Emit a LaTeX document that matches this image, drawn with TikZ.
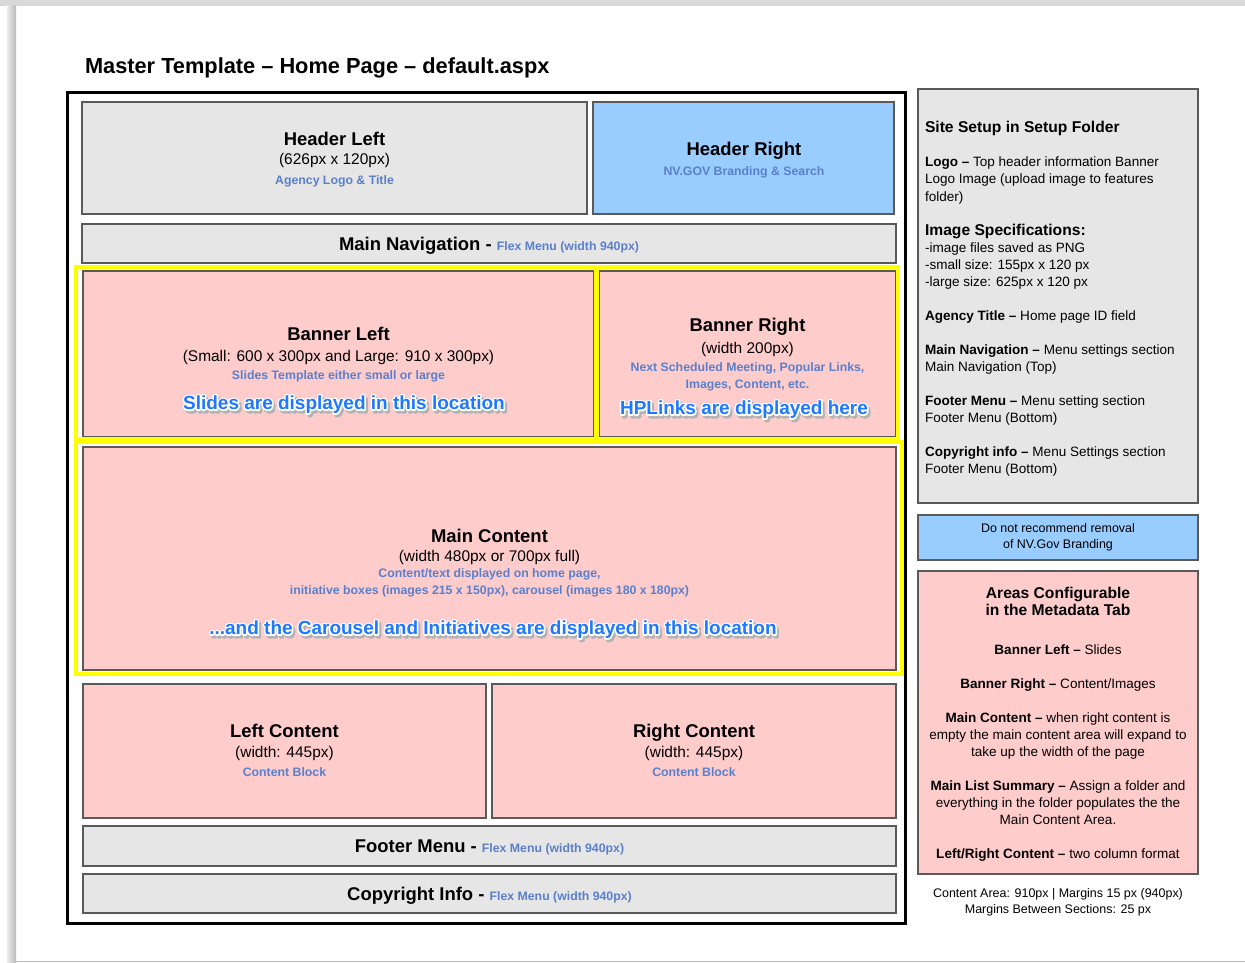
\documentclass[tikz,border=0pt]{standalone}
\usepackage{fontspec}
\setmainfont{Liberation Sans}
\definecolor{boxgray}{HTML}{E6E6E6}
\definecolor{boxblue}{HTML}{99CCFF}
\definecolor{boxpink}{HTML}{FFCCCC}
\definecolor{boxedge}{HTML}{5A5A5A}
\definecolor{noteblue}{HTML}{5A80CC}
\definecolor{glowblue}{HTML}{1F78FF}
\definecolor{hlyellow}{HTML}{FFFF00}
% blue bold remark after a section name
\newcommand\bluenote[1]{{\fontsize{7}{8}\selectfont\color{noteblue}#1}}
% text drawn with a thick stroke of the current colour
\newcommand\strokedtxt[1]{\special{pdf:code 1 j 1.8 w 2 Tr}#1\special{pdf:code 0 Tr 0 j}}
% outlined and shadowed call-out text
\newcommand\glowtxt[1]{%
  \rlap{\kern1.1pt\raisebox{-1.4pt}{\color{black!30}\strokedtxt{#1}}}%
  \rlap{\color{white}\strokedtxt{#1}}%
  {\color{glowblue}#1}}

\begin{document}
\begin{tikzpicture}[x=0.02cm, y=-0.02cm,
  every node/.style={inner sep=0pt, outer sep=0pt},
  blk/.style={draw=boxedge, line width=0.9pt},
  grayblk/.style={blk, fill=boxgray},
  blueblk/.style={blk, fill=boxblue},
  pinkblk/.style={blk, fill=boxpink},
  hilite/.style={draw=hlyellow, line width=2.3pt},
  hdtxt/.style={anchor=base, font=\fontsize{10.5}{12}\selectfont\bfseries},
  dimtxt/.style={anchor=base, font=\fontsize{8.8}{10}\selectfont},
  notetxt/.style={anchor=base, text=noteblue, font=\fontsize{7}{8}\selectfont\bfseries},
  shouttxt/.style={anchor=base, font=\fontsize{10.8}{12}\selectfont\bfseries},
  sidetxt/.style={align=left, font=\fontsize{7.7}{9.7}\selectfont}]
  \useasboundingbox (0,0) rectangle (1245,963);
  % page edge
  \fill[gray!30] (0,0) rectangle (1245,6);
  \shade[left color=gray!15, right color=gray!55] (7,6) rectangle (16,963);
  \draw[gray!55, line width=0.8pt] (16,961.5) -- (1245,961.5);

  \node[anchor=base west, font=\fontsize{12.4}{14}\selectfont\bfseries] (title) at (85,73.5)
    {Master Template – Home Page – default.aspx};
  \node[draw=black, line width=1.7pt, minimum width=16.78cm, minimum height=16.64cm] (frame) at (486.5,508) {};

  % layout blocks
  \node[grayblk, minimum width=10.1cm, minimum height=2.24cm] (hdrL) at (334.5,158) {};
  \node[blueblk, minimum width=6.02cm, minimum height=2.24cm] (hdrR) at (743.5,158) {};
  \node[grayblk, minimum width=16.28cm, minimum height=0.78cm] (nav) at (489,243.5) {};
  \node[pinkblk, minimum width=10.22cm, minimum height=3.32cm] (banL) at (338.5,354) {};
  \node[pinkblk, minimum width=5.94cm, minimum height=3.32cm] (banR) at (747.5,354) {};
  \node[pinkblk, minimum width=16.26cm, minimum height=4.46cm] (main) at (489.5,558.5) {};
  \node[pinkblk, minimum width=8.06cm, minimum height=2.68cm] (lcont) at (284.5,751) {};
  \node[pinkblk, minimum width=8.08cm, minimum height=2.68cm] (rcont) at (694,751) {};
  \node[grayblk, minimum width=16.26cm, minimum height=0.8cm] (foot) at (489.5,846) {};
  \node[grayblk, minimum width=16.26cm, minimum height=0.78cm] (copy) at (489.5,893.5) {};

  % yellow highlights
  \node[hilite, minimum width=10.4cm, minimum height=3.44cm] (banLhl) at (336,353) {};
  \node[hilite, minimum width=6.02cm, minimum height=3.44cm] (banRhl) at (747.5,353) {};
  \node[hilite, minimum width=16.52cm, minimum height=4.64cm] (mainhl) at (489,558) {};

  % block texts
  \node[hdtxt] (hdrLname) at (334.5,146) {Header Left};
  \node[dimtxt] (hdrLsize) at (334.5,164.5) {(626px x 120px)};
  \node[notetxt] (hdrLnote) at (334.5,184.5) {Agency Logo \& Title};

  \node[hdtxt] (hdrRname) at (744,155.5) {Header Right};
  \node[notetxt] (hdrRnote) at (744,175.5) {NV.GOV Branding \& Search};

  \node[hdtxt] (navname) at (489,250.5) {Main Navigation - \bluenote{Flex Menu (width 940px)}};

  \node[hdtxt] (banLname) at (338.5,340.5) {Banner Left};
  \node[dimtxt] (banLsize) at (338.5,361) {(Small: 600 x 300px and Large: 910 x 300px)};
  \node[notetxt] (banLnote) at (338.5,379.5) {Slides Template either small or large};
  \node[shouttxt] (banLshout) at (344,409.5) {\glowtxt{Slides are displayed in this location}};

  \node[hdtxt] (banRname) at (747.5,331.5) {Banner Right};
  \node[dimtxt] (banRsize) at (747.5,353) {(width 200px)};
  \node[notetxt] (banRnote) at (747.5,371.5) {Next Scheduled Meeting, Popular Links,};
  \node[notetxt] (banRnote2) at (747.5,388.5) {Images, Content, etc.};
  \node[shouttxt] (banRshout) at (744,414.5) {\glowtxt{HPLinks are displayed here}};

  \node[hdtxt] (mainname) at (489.5,542.5) {Main Content};
  \node[dimtxt] (mainsize) at (489.5,561) {(width 480px or 700px full)};
  \node[notetxt] (mainnote) at (489.5,577.5) {Content/text displayed on home page,};
  \node[notetxt] (mainnote2) at (489.5,594.5) {initiative boxes (images 215 x 150px), carousel (images 180 x 180px)};
  \node[shouttxt] (mainshout) at (493,634.5) {\glowtxt{...and the Carousel and Initiatives are displayed in this location}};

  \node[hdtxt] (lcontname) at (284.5,737.5) {Left Content};
  \node[dimtxt] (lcontsize) at (284.5,757) {(width: 445px)};
  \node[notetxt] (lcontnote) at (284.5,776.5) {Content Block};

  \node[hdtxt] (rcontname) at (694,737.5) {Right Content};
  \node[dimtxt] (rcontsize) at (694,757) {(width: 445px)};
  \node[notetxt] (rcontnote) at (694,776.5) {Content Block};

  \node[hdtxt] (footname) at (489.5,852.5) {Footer Menu - \bluenote{Flex Menu (width 940px)}};
  \node[hdtxt] (copyname) at (489.5,900.5) {Copyright Info - \bluenote{Flex Menu (width 940px)}};

  % side panel
  \node[grayblk, minimum width=5.6cm, minimum height=8.28cm] (setup) at (1058,296) {};
  \node[blueblk, minimum width=5.6cm, minimum height=0.9cm, align=center,
    font=\fontsize{7.1}{9.1}\selectfont] (brand) at (1058,537.5) {Do not recommend removal\\of NV.Gov Branding};
  \node[pinkblk, minimum width=5.6cm, minimum height=6.06cm] (meta) at (1058,722.5) {};

  \node[sidetxt, anchor=north west] (setupText) at (925,121.5) {%
    {\fontsize{8.9}{9.7}\selectfont\bfseries Site Setup in Setup Folder}\\[9.7pt]
    \textbf{Logo –} Top header information Banner\\
    Logo Image (upload image to features\\
    folder)\\[9.7pt]
    {\fontsize{8.9}{9.7}\selectfont\bfseries Image Specifications:}\\
    -image files saved as PNG\\
    -small size: 155px x 120 px\\
    -large size: 625px x 120 px\\[9.7pt]
    \textbf{Agency Title –} Home page ID field\\[9.7pt]
    \textbf{Main Navigation –} Menu settings section\\
    Main Navigation (Top)\\[9.7pt]
    \textbf{Footer Menu –} Menu setting section\\
    Footer Menu (Bottom)\\[9.7pt]
    \textbf{Copyright info –} Menu Settings section\\
    Footer Menu (Bottom)};

  \node[sidetxt, align=center, anchor=north] (metaText) at (1058,587.5) {%
    {\fontsize{8.9}{9.7}\selectfont\bfseries Areas Configurable}\\
    {\fontsize{8.9}{9.7}\selectfont\bfseries in the Metadata Tab}\\[12pt]
    \textbf{Banner Left –} Slides\\[9.7pt]
    \textbf{Banner Right –} Content/Images\\[9.7pt]
    \textbf{Main Content –} when right content is\\
    empty the main content area will expand to\\
    take up the width of the page\\[9.7pt]
    \textbf{Main List Summary –} Assign a folder and\\
    everything in the folder populates the the\\
    Main Content Area.\\[9.7pt]
    \textbf{Left/Right Content –} two column format};

  \node[align=center, font=\fontsize{7.1}{9.1}\selectfont] (areaNote) at (1058,902)
    {Content Area: 910px | Margins 15 px (940px)\\Margins Between Sections: 25 px};
\end{tikzpicture}
\end{document}
